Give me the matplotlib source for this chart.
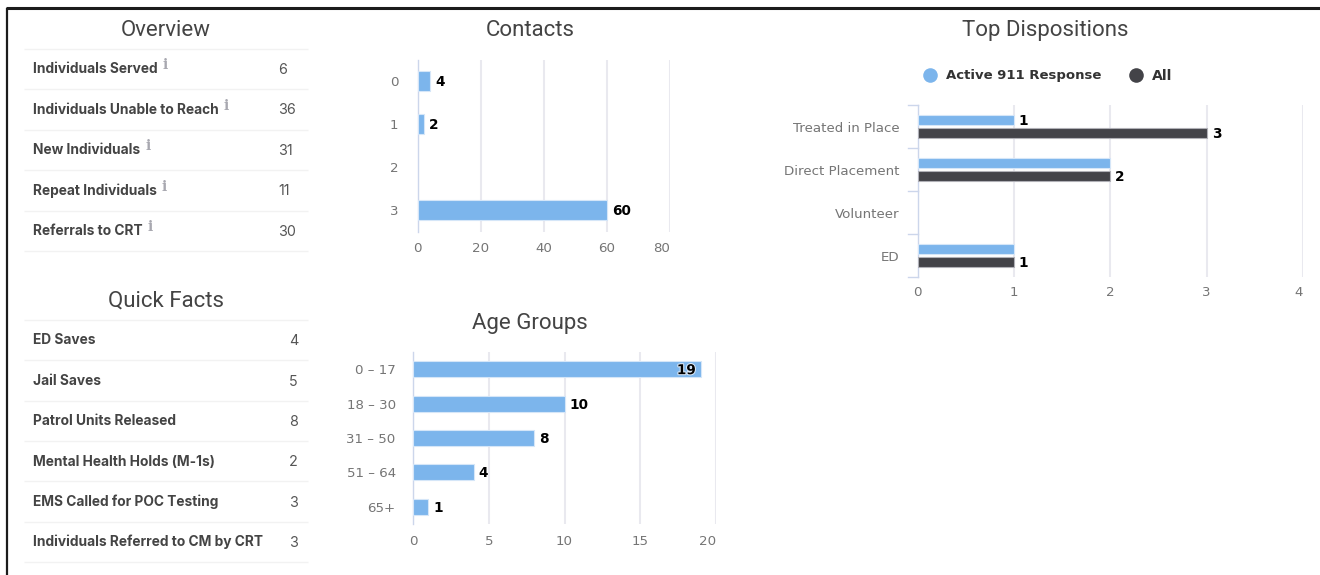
import matplotlib
matplotlib.use("Agg")
import matplotlib.pyplot as plt
import matplotlib.patheffects as pe
import numpy as np

W, H = 1320, 575
blue = '#7cb5ec'
dark = '#434348'
grid_col = '#e9e9ef'
axis_col = '#ccd6eb'
tick_col = '#666666'
title_col = '#444444'

overview_labels = ["Individuals Served", "Individuals Unable to Reach", "New Individuals",
                   "Repeat Individuals", "Referrals to CRT"]
overview_values = [6, 36, 31, 11, 30]
facts_labels = ["ED Saves", "Jail Saves", "Patrol Units Released", "Mental Health Holds (M-1s)",
                "EMS Called for POC Testing", "Individuals Referred to CM by CRT"]
facts_values = [4, 5, 8, 2, 3, 3]

contact_cats = ["0", "1", "2", "3"]
contact_vals = [4, 2, 0, 60]
contact_ticks = [0, 20, 40, 60, 80]

age_cats = ["0 \u2013 17", "18 \u2013 30", "31 \u2013 50", "51 \u2013 64", "65+"]
age_vals = [19, 10, 8, 4, 1]
age_ticks = [0, 5, 10, 15, 20]

disp_cats = ["Treated in Place", "Direct Placement", "Volunteer", "ED"]
disp_active = [1, 2, 0, 1]
disp_all = [3, 2, 0, 1]
disp_ticks = [0, 1, 2, 3, 4]

fig = plt.figure(figsize=(W / 100, H / 100), dpi=100, facecolor='white')

# pixel overlay for the frame, table rows and titles
bg = fig.add_axes([0, 0, 1, 1])
bg.set_xlim(0, W)
bg.set_ylim(H, 0)
bg.axis('off')


def px_axes(left, top, right, bottom):
    return fig.add_axes([left / W, 1 - bottom / H, (right - left) / W, (bottom - top) / H])


def draw_table(labels, values, top, step, value_x, info=False):
    bg.plot([24, 308], [top, top], color='#f2f2f2', lw=1, solid_capstyle='butt')
    for i, (lab, val) in enumerate(zip(labels, values)):
        y = top + step * i
        bg.plot([24, 308], [y + step, y + step], color='#f2f2f2', lw=1, solid_capstyle='butt')
        t = bg.text(33, y + step / 2 + 0.3, lab, family='Inter', weight='bold', fontsize=9.9,
                    color='#444444', va='center', ha='left')
        bg.text(value_x, y + step / 2 + 1, str(val), family='Inter', fontsize=10.3,
                color='#555555', va='center', ha='left')
        if info:
            fig.canvas.draw()
            box = t.get_window_extent()
            bg.text(box.x1 + 5, y + step / 2 - 3.5, "i", family='DejaVu Serif', weight='bold',
                    fontsize=10, color='#a8a8b0', va='center', ha='left')


def style_axes(ax, ticks, xmax, n, cats, xpad, ypad):
    ax.set_xlim(0, xmax)
    ax.set_ylim(n - 0.5, -0.5)
    ax.set_xticks(ticks)
    ax.set_yticks(range(n))
    ax.set_yticklabels(cats)
    ax.set_facecolor('none')
    ax.grid(axis='x', color=grid_col, lw=1.5)
    ax.set_axisbelow(True)
    for s in ['top', 'right', 'bottom']:
        ax.spines[s].set_visible(False)
    ax.spines['left'].set_color(axis_col)
    ax.spines['left'].set_linewidth(1)
    ax.tick_params(axis='x', length=0, pad=xpad, labelsize=9.6, labelcolor=tick_col)
    ax.tick_params(axis='y', length=0, pad=ypad, labelsize=9.6, labelcolor=tick_col)
    for t in ax.get_xticklabels() + ax.get_yticklabels():
        t.set_family('DejaVu Sans')
        t.set_alpha(0.9)
    # last x label is pulled inside the plot edge
    ax.get_xticklabels()[-1].set_ha('right')


def value_label(ax, x, y, txt):
    ax.annotate(txt, (x, y), xytext=(3.6, -0.7), textcoords='offset points',
                va='center', ha='left', family='DejaVu Sans', weight='bold',
                fontsize=9.8, color='black', annotation_clip=False, zorder=2.5)


def bars(ax, pos, vals, height, color, edge):
    # empty categories get no bar at all
    keep = [i for i, v in enumerate(vals) if v > 0]
    ax.barh(np.array(pos)[keep], np.array(vals)[keep], height=height, color=color,
            edgecolor=edge, lw=0.8, zorder=3)


# Frame
bg.plot([7, 7], [8, H], color='#1c1c1c', lw=1.6, solid_capstyle='butt')
bg.plot([6, W], [8, 8], color='#1c1c1c', lw=2.2, solid_capstyle='butt')

# Titles
for txt, x, y in [("Overview", 165.5, 30.5), ("Quick Facts", 165.5, 301), ("Contacts", 530, 30.5),
                  ("Age Groups", 530, 323), ("Top Dispositions", 1045.5, 30.5)]:
    bg.text(x, y, txt, family='Roboto', fontsize=16, color=title_col, ha='center', va='center')

draw_table(overview_labels, overview_values, 48.5, 40.5, 278, info=True)
draw_table(facts_labels, facts_values, 320, 40.35, 289)

# Contacts
ax1 = px_axes(417.7, 59.5, 669.7, 231.5)
style_axes(ax1, contact_ticks, 80, len(contact_cats), contact_cats, 7.5, 14)
bars(ax1, range(4), contact_vals, 0.47, blue, '#d5e6f8')
for i, v in enumerate(contact_vals):
    if v > 0:
        value_label(ax1, v, i, str(v))

# Age groups
ax2 = px_axes(413, 352, 716, 524)
style_axes(ax2, age_ticks, 20, len(age_cats), age_cats, 8, 12.5)
bars(ax2, range(5), age_vals, 0.46, blue, '#d5e6f8')
for i, v in enumerate(age_vals):
    if v == max(age_vals):
        # largest label sits inside the bar end
        ax2.annotate(str(v), (v, i), xytext=(-3.5, -0.7), textcoords='offset points', va='center',
                     ha='right', family='DejaVu Sans', weight='bold', fontsize=9.8, color='black',
                     path_effects=[pe.withStroke(linewidth=1.5, foreground='#dce9f7')], zorder=5)
    else:
        value_label(ax2, v, i, str(v))

# Top dispositions
ax3 = px_axes(917.5, 105, 1303, 277)
style_axes(ax3, disp_ticks, 4, len(disp_cats), disp_cats, 6.5, 13)
y = np.arange(4)
# the label of the upper bar is partly hidden by the bar below, so labels go first
for i in range(4):
    if disp_active[i] > 0 and disp_active[i] != disp_all[i]:
        value_label(ax3, disp_active[i], i - 0.145, str(disp_active[i]))
    if disp_all[i] > 0:
        value_label(ax3, disp_all[i], i + 0.145, str(disp_all[i]))
bars(ax3, y - 0.145, disp_active, 0.24, blue, '#d5e6f8')
bars(ax3, y + 0.145, disp_all, 0.24, dark, '#b0b0b6')
# category separators on the axis
for b in np.arange(-0.5, 4):
    ax3.plot([-0.1, 0], [b, b], color=axis_col, lw=1, clip_on=False, zorder=2)

# Legend
bg.plot([930], [75], 'o', color=blue, ms=10.5, mew=0)
bg.text(946, 79.5, "Active 911 Response", family='DejaVu Sans', weight='bold', fontsize=9.5,
        color='#333333', va='baseline', ha='left')
bg.plot([1136], [75], 'o', color=dark, ms=10.5, mew=0)
bg.text(1152, 79.5, "All", family='DejaVu Sans', weight='bold', fontsize=10.2,
        color='#333333', va='baseline', ha='left')

fig.savefig("out.png", dpi=100, facecolor='white')
